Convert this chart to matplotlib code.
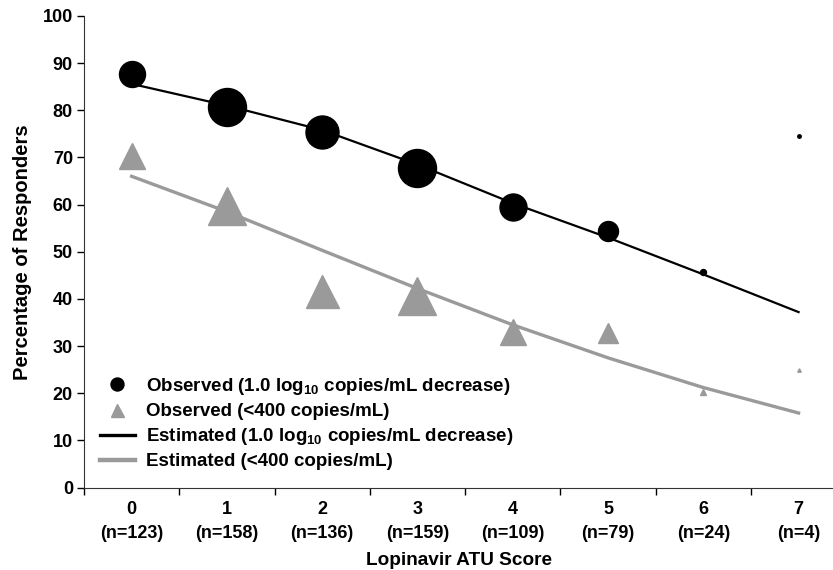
import matplotlib
matplotlib.use("Agg")
import matplotlib.pyplot as plt
from matplotlib.lines import Line2D

# dati
scores = [0, 1, 2, 3, 4, 5, 6, 7]
n_pazienti = [123, 158, 136, 159, 109, 79, 24, 4]
obs_1log = [87.6, 80.8, 75.5, 67.7, 59.4, 54.3, 45.6, 74.6]
obs_400 = [70.3, 59.8, 41.7, 40.7, 33.0, 32.7, 20.3, 25.0]
est_1log = [85.6, 81.0, 75.8, 68.5, 60.3, 53.0, 45.2, 37.2]
est_400 = [66.0, 58.5, 50.3, 42.2, 34.5, 27.5, 21.2, 15.8]

# diametro dei marker (pixel) come nel grafico originale
marker_px = [26, 38, 33, 38, 27, 20, 6, 3.5]

plt.rcParams['font.family'] = ['Liberation Sans', 'DejaVu Sans']
plt.rcParams['font.weight'] = 'bold'
plt.rcParams['mathtext.fontset'] = 'custom'
plt.rcParams['mathtext.rm'] = 'Liberation Sans:bold'
plt.rcParams['mathtext.bf'] = 'Liberation Sans:bold'

GRIGIO = '#9a9a9a'
px2pt = 72 / 100

fig = plt.figure(figsize=(8.33, 5.70), dpi=100)
ax = fig.add_axes([84 / 833, 1 - 487.5 / 570, 1 - 84 / 833 + 0.001, (487.5 - 16) / 570])

ax.plot(scores, est_1log, color='black', lw=1.6, zorder=2)
ax.plot(scores, est_400, color=GRIGIO, lw=2.4, zorder=2)

for x, y, d in zip(scores, obs_1log, marker_px):
    ax.plot(x, y, 'o', color='black', markersize=d * px2pt, zorder=3)
for x, y, d in zip(scores, obs_400, marker_px):
    ax.plot(x, y, '^', color=GRIGIO, markeredgecolor=GRIGIO, markersize=d * px2pt, zorder=3)

ax.set_xlim(-0.5, 7.37)
ax.set_ylim(0, 100)
ax.set_yticks(range(0, 101, 10))
ax.set_xticks(scores)
ax.set_xticklabels([f"{s}\n(n={n})" for s, n in zip(scores, n_pazienti)], linespacing=1.5)
ax.set_xticks([s - 0.5 for s in scores], minor=True)
ax.tick_params(axis='x', which='major', length=0, pad=10, labelsize=13)
ax.tick_params(axis='x', which='minor', length=5, width=1, direction='out')
ax.tick_params(axis='y', length=5, width=1, labelsize=13, pad=3)
for lab in ax.get_xticklabels() + ax.get_yticklabels():
    lab.set_fontweight('bold')

ax.spines['top'].set_visible(False)
ax.spines['right'].set_visible(False)
ax.spines['left'].set_color('#333333')
ax.spines['bottom'].set_color('#333333')

ax.set_ylabel("Percentage of Responders", fontsize=14.5, fontweight='bold', labelpad=8)
ax.set_xlabel("Lopinavir ATU Score", fontsize=13.7, fontweight='bold', labelpad=7)

handles = [
    Line2D([0], [0], marker='o', color='none', markerfacecolor='black', markeredgecolor='black',
           markersize=13 * px2pt, label="Observed (1.0 log$_{10}$ copies/mL decrease)"),
    Line2D([0], [0], marker='^', color='none', markerfacecolor=GRIGIO, markeredgecolor=GRIGIO,
           markersize=13 * px2pt, label="Observed (<400 copies/mL)"),
    Line2D([0], [0], color='black', lw=2.4, label="Estimated (1.0 log$_{10}$ copies/mL decrease)"),
    Line2D([0], [0], color=GRIGIO, lw=3.2, label="Estimated (<400 copies/mL)"),
]
ax.legend(handles=handles, loc='upper left', bbox_to_anchor=(16 / 749, 1 - (376 - 16) / 471.5),
          frameon=False, handlelength=1.85, handletextpad=0.6,
          labelspacing=0.32, borderpad=0, borderaxespad=0,
          prop={'weight': 'bold', 'size': 13.5})

fig.savefig("out.png", dpi=100)
